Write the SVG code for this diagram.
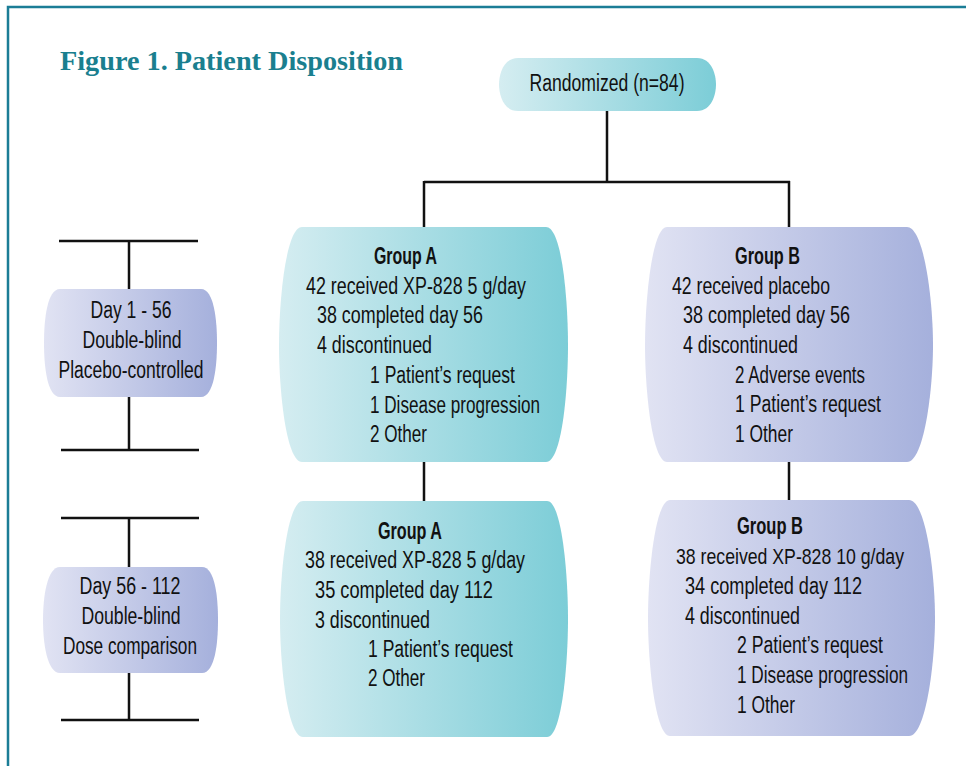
<svg xmlns="http://www.w3.org/2000/svg" width="966" height="766" viewBox="0 0 966 766">
<style>
.t{font-family:"Liberation Sans",Arimo,sans-serif;font-size:23px;fill:#111}
.b{font-weight:bold}
.c{text-anchor:middle}
.s{font-size:21.5px}
.ln{stroke:#111;stroke-width:2.5;fill:none}
.title{font-family:"Liberation Serif",serif;font-size:27px;font-weight:bold;fill:#1a7f8f}
</style>
<defs>
<linearGradient id="teal" x1="0" y1="0" x2="1" y2="0">
<stop offset="0" stop-color="#d5edf1"/>
<stop offset="1" stop-color="#7ccdd7"/>
</linearGradient>
<linearGradient id="lav" x1="0" y1="0" x2="1" y2="0">
<stop offset="0" stop-color="#e1e3f3"/>
<stop offset="1" stop-color="#a5b0dc"/>
</linearGradient>
</defs>
<rect x="0" y="0" width="966" height="766" fill="#fff"/>
<path d="M8,766 V7 H966" fill="none" stroke="#1b7d96" stroke-width="2.5"/>
<text class="title" x="60" y="70" textLength="343" lengthAdjust="spacingAndGlyphs">Figure 1.  Patient Disposition</text>

<g id="connectors">
<path class="ln" d="M607,111 V182 M424,182 H790 M424,181 V227 M789,181 V227"/>
<path class="ln" d="M424,462 V501 M789,462 V500"/>
<path class="ln" d="M59,241 H198 M129,241 V289 M129,397 V450 M61,450 H199"/>
<path class="ln" d="M61,518 H199 M129,518 V567 M129,673 V720 M61,720 H199"/>
</g>

<g id="randomized">
<path d="M518,58 H697 C712,58 716,75 716,84.5 C716,94 712,111 697,111 H518 C503,111 499,94 499,84.5 C499,75 503,58 518,58 Z" fill="url(#teal)"/>
<text class="t c" x="607" y="91" textLength="155" lengthAdjust="spacingAndGlyphs">Randomized (n=84)</text>
</g>

<g id="day1">
<path d="M60,289 H201 C214,289 217,320 217,343 C217,366 214,397 201,397 H60 C47,397 44,366 44,343 C44,320 47,289 60,289 Z" fill="url(#lav)"/>
<text class="t c" x="131" y="318" textLength="81" lengthAdjust="spacingAndGlyphs">Day 1 - 56</text>
<text class="t c" x="132" y="348" textLength="99" lengthAdjust="spacingAndGlyphs">Double-blind</text>
<text class="t c" x="131" y="378" textLength="145" lengthAdjust="spacingAndGlyphs">Placebo-controlled</text>
</g>

<g id="day2">
<path d="M60,567 H202 C215,567 218,597 218,620 C218,643 215,673 202,673 H60 C47,673 43,643 43,620 C43,597 47,567 60,567 Z" fill="url(#lav)"/>
<text class="t c" x="130" y="594" textLength="101" lengthAdjust="spacingAndGlyphs">Day 56 - 112</text>
<text class="t c" x="131" y="624" textLength="99" lengthAdjust="spacingAndGlyphs">Double-blind</text>
<text class="t c" x="130" y="654" textLength="134" lengthAdjust="spacingAndGlyphs">Dose comparison</text>
</g>

<g id="groupA1">
<path d="M302,227 H546 C562,227 568,300 568,345 C568,390 562,462 546,462 H302 C286,462 279,390 279,345 C279,300 286,227 302,227 Z" fill="url(#teal)"/>
<text class="t b" x="374" y="264" textLength="63" lengthAdjust="spacingAndGlyphs">Group A</text>
<text class="t" x="306" y="294" textLength="220" lengthAdjust="spacingAndGlyphs">42 received XP-828 5 g/day</text>
<text class="t" x="317" y="323" textLength="166" lengthAdjust="spacingAndGlyphs">38 completed day 56</text>
<text class="t" x="317" y="353" textLength="115" lengthAdjust="spacingAndGlyphs">4 discontinued</text>
<text class="t" x="370" y="383" textLength="145" lengthAdjust="spacingAndGlyphs">1 Patient’s request</text>
<text class="t" x="370" y="413" textLength="170" lengthAdjust="spacingAndGlyphs">1 Disease progression</text>
<text class="t" x="370" y="442" textLength="57" lengthAdjust="spacingAndGlyphs">2 Other</text>
</g>

<g id="groupB1">
<path d="M667,227 H907 C924,227 933,300 933,345 C933,390 924,462 907,462 H667 C652,462 645,390 645,345 C645,300 652,227 667,227 Z" fill="url(#lav)"/>
<text class="t b" x="735" y="264" textLength="65" lengthAdjust="spacingAndGlyphs">Group B</text>
<text class="t" x="672" y="294" textLength="158" lengthAdjust="spacingAndGlyphs">42 received placebo</text>
<text class="t" x="683" y="323" textLength="167" lengthAdjust="spacingAndGlyphs">38 completed day 56</text>
<text class="t" x="683" y="353" textLength="115" lengthAdjust="spacingAndGlyphs">4 discontinued</text>
<text class="t" x="735" y="383" textLength="130" lengthAdjust="spacingAndGlyphs">2 Adverse events</text>
<text class="t" x="735" y="412" textLength="146" lengthAdjust="spacingAndGlyphs">1 Patient’s request</text>
<text class="t" x="735" y="442" textLength="58" lengthAdjust="spacingAndGlyphs">1 Other</text>
</g>

<g id="groupA2">
<path d="M303,501 H547 C562,501 568,575 568,619 C568,663 562,737 547,737 H303 C287,737 280,663 280,619 C280,575 287,501 303,501 Z" fill="url(#teal)"/>
<text class="t b" x="378" y="539" textLength="64" lengthAdjust="spacingAndGlyphs">Group A</text>
<text class="t" x="305" y="568" textLength="220" lengthAdjust="spacingAndGlyphs">38 received XP-828 5 g/day</text>
<text class="t" x="315" y="598" textLength="178" lengthAdjust="spacingAndGlyphs">35 completed day 112</text>
<text class="t" x="315" y="628" textLength="115" lengthAdjust="spacingAndGlyphs">3 discontinued</text>
<text class="t" x="368" y="657" textLength="145" lengthAdjust="spacingAndGlyphs">1 Patient’s request</text>
<text class="t" x="368" y="686" textLength="57" lengthAdjust="spacingAndGlyphs">2 Other</text>
</g>

<g id="groupB2">
<path d="M670,500 H909 C926,500 935,574 935,618 C935,662 926,736 909,736 H670 C655,736 648,662 648,618 C648,574 655,500 670,500 Z" fill="url(#lav)"/>
<text class="t b" x="737" y="534" textLength="66" lengthAdjust="spacingAndGlyphs">Group B</text>
<text class="t s" x="676" y="564" textLength="228" lengthAdjust="spacingAndGlyphs">38 received XP-828 10 g/day</text>
<text class="t" x="685" y="594" textLength="177" lengthAdjust="spacingAndGlyphs">34 completed day 112</text>
<text class="t" x="685" y="624" textLength="115" lengthAdjust="spacingAndGlyphs">4 discontinued</text>
<text class="t" x="737" y="653" textLength="146" lengthAdjust="spacingAndGlyphs">2 Patient’s request</text>
<text class="t" x="737" y="683" textLength="171" lengthAdjust="spacingAndGlyphs">1 Disease progression</text>
<text class="t" x="737" y="713" textLength="58" lengthAdjust="spacingAndGlyphs">1 Other</text>
</g>
</svg>
